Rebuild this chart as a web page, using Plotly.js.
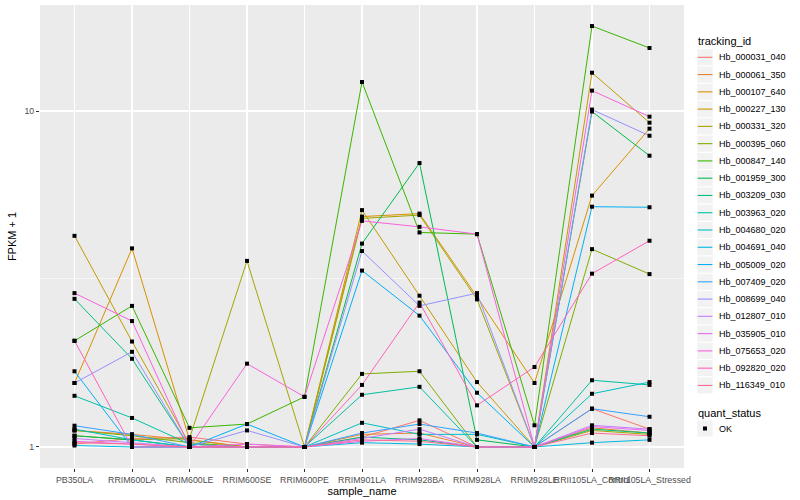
<!DOCTYPE html>
<html>
<head>
<meta charset="utf-8">
<script src="https://cdn.plot.ly/plotly-3.0.1.min.js"></script>
<style>html,body{margin:0;padding:0;background:#fff;}#chart{width:800px;height:500px;}</style>
</head>
<body>
<div id="chart"></div>
<script>
// ---- data ----
const samples = ['PB350LA','RRIM600LA','RRIM600LE','RRIM600SE','RRIM600PE','RRIM901LA','RRIM928BA','RRIM928LA','RRIM928LE','RRII105LA_Control','RRII105LA_Stressed'];

const trackingIds = ['Hb_000031_040','Hb_000061_350','Hb_000107_640','Hb_000227_130','Hb_000331_320','Hb_000395_060','Hb_000847_140','Hb_001959_300','Hb_003209_030','Hb_003963_020','Hb_004680_020','Hb_004691_040','Hb_005009_020','Hb_007409_020','Hb_008699_040','Hb_012807_010','Hb_035905_010','Hb_075653_020','Hb_092820_020','Hb_116349_010'];

const Hb_000031_040 = [1.02, 1.06, 1.07, 1.02, 1.00, 1.07, 1.20, 1.00, 1.00, 1.30, 1.13];
const Hb_000061_350 = [1.12, 1.09, 1.05, 1.00, 1.00, 1.09, 1.10, 1.00, 1.00, 1.14, 1.10];
const Hb_000107_640 = [1.55, 3.90, 1.05, 1.00, 1.00, 4.85, 4.95, 2.80, 1.55, 5.60, 8.86];
const Hb_000227_130 = [4.25, 2.06, 1.02, 1.00, 1.00, 5.07, 2.82, 1.56, 1.00, 13.0, 9.23];
const Hb_000331_320 = [1.08, 1.05, 1.06, 3.58, 1.00, 4.79, 4.90, 2.75, 1.00, 1.12, 1.09];
const Hb_000395_060 = [1.12, 1.08, 1.03, 1.00, 1.00, 1.65, 1.68, 1.00, 1.00, 3.88, 3.27];
const Hb_000847_140 = [2.07, 2.63, 1.14, 1.17, 1.41, 12.2, 4.35, 4.30, 1.16, 17.9, 15.4];
const Hb_001959_300 = [1.08, 1.05, 1.00, 1.00, 1.00, 4.03, 7.00, 1.05, 1.00, 9.96, 7.36];
const Hb_003209_030 = [2.76, 1.83, 1.00, 1.00, 1.00, 1.07, 1.05, 1.00, 1.00, 1.13, 1.10];
const Hb_003963_020 = [1.42, 1.22, 1.02, 1.00, 1.00, 1.43, 1.51, 1.00, 1.00, 1.58, 1.53];
const Hb_004680_020 = [1.13, 1.05, 1.00, 1.00, 1.00, 1.18, 1.09, 1.09, 1.00, 1.44, 1.56];
const Hb_004691_040 = [1.01, 1.00, 1.00, 1.00, 1.00, 1.03, 1.02, 1.00, 1.00, 1.03, 1.05];
const Hb_005009_020 = [1.68, 1.00, 1.00, 1.17, 1.00, 3.35, 2.46, 1.45, 1.00, 5.19, 5.17];
const Hb_007409_020 = [1.157, 1.09, 1.00, 1.00, 1.00, 1.10, 1.17, 1.10, 1.00, 1.30, 1.23];
const Hb_008699_040 = [1.55, 1.92, 1.00, 1.12, 1.00, 3.83, 2.63, 2.87, 1.00, 10.1, 8.44];
const Hb_012807_010 = [1.06, 1.03, 1.00, 1.00, 1.00, 1.06, 1.13, 1.00, 1.00, 1.16, 1.13];
const Hb_035905_010 = [1.04, 1.02, 1.00, 1.02, 1.00, 1.04, 1.06, 1.00, 1.00, 1.15, 1.12];
const Hb_075653_020 = [2.87, 2.37, 1.00, 1.77, 1.41, 4.71, 4.52, 4.30, 1.00, 11.5, 9.62];
const Hb_092820_020 = [2.07, 1.00, 1.00, 1.00, 1.00, 1.53, 2.69, 1.33, 1.73, 3.28, 4.11];
const Hb_116349_010 = [1.03, 1.02, 1.00, 1.00, 1.00, 1.05, 1.04, 1.00, 1.00, 1.10, 1.08];

const quantStatus = ['OK'];

const seriesValues = [Hb_000031_040, Hb_000061_350, Hb_000107_640, Hb_000227_130, Hb_000331_320, Hb_000395_060, Hb_000847_140, Hb_001959_300, Hb_003209_030, Hb_003963_020, Hb_004680_020, Hb_004691_040, Hb_005009_020, Hb_007409_020, Hb_008699_040, Hb_012807_010, Hb_035905_010, Hb_075653_020, Hb_092820_020, Hb_116349_010];

// ggplot2 default hue palette for 20 levels
const palette = ['#F8766D','#EA8331','#D89000','#C09B00','#A3A500','#7CAE00','#39B600','#00BB4E','#00BF7D','#00C1A3','#00BFC4','#00BAE0','#00B0F6','#35A2FF','#9590FF','#C77CFF','#E76BF3','#FA62DB','#FF62BC','#FF6C91'];

const FONT = 'Liberation Sans, Arial, sans-serif';

// ---- geometry of the panel (pixels) ----
const W = 800, H = 500;
const M = {l: 40, r: 116, t: 5, b: 32};
const PW = W - M.l - M.r, PH = H - M.t - M.b;
const fx = x => (x - M.l) / PW;          // pixel x -> paper
const fy = y => (H - M.b - y) / PH;      // pixel y -> paper

const traces = trackingIds.map((id, i) => ({
  type: 'scatter', mode: 'lines', name: id,
  x: samples, y: seriesValues[i],
  line: {color: palette[i], width: 1},
  showlegend: false, hoverinfo: 'skip'
}));

const px = [], py = [];
seriesValues.forEach(v => v.forEach((val, j) => { px.push(samples[j]); py.push(val); }));
traces.push({
  type: 'scatter', mode: 'markers', name: quantStatus[0],
  x: px, y: py,
  marker: {symbol: 'square', size: 4, color: '#000000'},
  showlegend: false, hoverinfo: 'skip'
});

// ---- legend drawn as layout shapes + annotations (ggplot style) ----
const shapes = [];
const annotations = [];
const keyX0 = 697.3, keyX1 = 712.7, keyH = 17.27, firstY = 57.3, textX = 716.5;

annotations.push({xref: 'paper', yref: 'paper', x: fx(696), y: fy(40.7), xanchor: 'left', yanchor: 'middle',
  text: 'tracking_id', showarrow: false, font: {family: FONT, size: 11, color: '#000000'}});

trackingIds.forEach((id, i) => {
  const cy = firstY + keyH * i;
  shapes.push({type: 'rect', xref: 'paper', yref: 'paper', x0: fx(keyX0), x1: fx(keyX1),
    y0: fy(cy - keyH / 2 + 0.6), y1: fy(cy + keyH / 2 - 0.6), fillcolor: '#F2F2F2', line: {width: 0}, layer: 'above'});
  shapes.push({type: 'line', xref: 'paper', yref: 'paper', x0: fx(keyX0 + 0.3), x1: fx(keyX1 - 0.3),
    y0: fy(cy), y1: fy(cy), line: {color: palette[i], width: 1.1}, layer: 'above'});
  annotations.push({xref: 'paper', yref: 'paper', x: fx(textX), y: fy(cy), xanchor: 'left', yanchor: 'middle',
    text: id, showarrow: false, font: {family: FONT, size: 9, color: '#000000'}});
});

annotations.push({xref: 'paper', yref: 'paper', x: fx(696), y: fy(412.7), xanchor: 'left', yanchor: 'middle',
  text: 'quant_status', showarrow: false, font: {family: FONT, size: 11, color: '#000000'}});
const okY = 428.5;
shapes.push({type: 'rect', xref: 'paper', yref: 'paper', x0: fx(keyX0), x1: fx(keyX1),
  y0: fy(okY - keyH / 2 + 0.6), y1: fy(okY + keyH / 2 - 0.6), fillcolor: '#F2F2F2', line: {width: 0}, layer: 'above'});
shapes.push({type: 'rect', xref: 'paper', yref: 'paper', x0: fx(703), x1: fx(707),
  y0: fy(okY + 2), y1: fy(okY - 2), fillcolor: '#000000', line: {width: 0}, layer: 'above'});
annotations.push({xref: 'paper', yref: 'paper', x: fx(textX), y: fy(okY), xanchor: 'left', yanchor: 'middle',
  text: quantStatus[0], showarrow: false, font: {family: FONT, size: 9, color: '#000000'}});

const layout = {
  width: W, height: H,
  margin: M,
  paper_bgcolor: '#FFFFFF', plot_bgcolor: '#EBEBEB',
  font: {family: FONT, color: '#000000', size: 10},
  showlegend: false,
  xaxis: {
    type: 'category', categoryorder: 'array', categoryarray: samples,
    range: [-0.6, 10.6],
    showgrid: true, gridcolor: '#FFFFFF', gridwidth: 1.1,
    zeroline: false, showline: false,
    ticks: 'outside', ticklen: 3, tickcolor: '#333333', tickwidth: 1,
    tickangle: 0,
    tickfont: {family: FONT, size: 8.8, color: '#4D4D4D'},
    title: {text: 'sample_name', font: {family: FONT, size: 11, color: '#000000'}, standoff: 2}
  },
  yaxis: {
    type: 'log',
    range: [-0.0626, 1.3155],
    tickmode: 'array', tickvals: [1, 10], ticktext: ['1', '10'],
    showgrid: true, gridcolor: '#FFFFFF', gridwidth: 1.1,
    minor: {tickmode: 'array', tickvals: [Math.sqrt(10)], showgrid: true, gridcolor: '#FFFFFF', gridwidth: 0.55, ticks: ''},
    zeroline: false, showline: false,
    ticks: 'outside', ticklen: 3, tickcolor: '#333333', tickwidth: 1,
    tickfont: {family: FONT, size: 8.8, color: '#4D4D4D'},
    title: {text: 'FPKM + 1', font: {family: FONT, size: 11, color: '#000000'}, standoff: 5}
  },
  shapes: shapes,
  annotations: annotations
};

Plotly.newPlot('chart', traces, layout, {displayModeBar: false, staticPlot: true});
</script>
</body>
</html>
